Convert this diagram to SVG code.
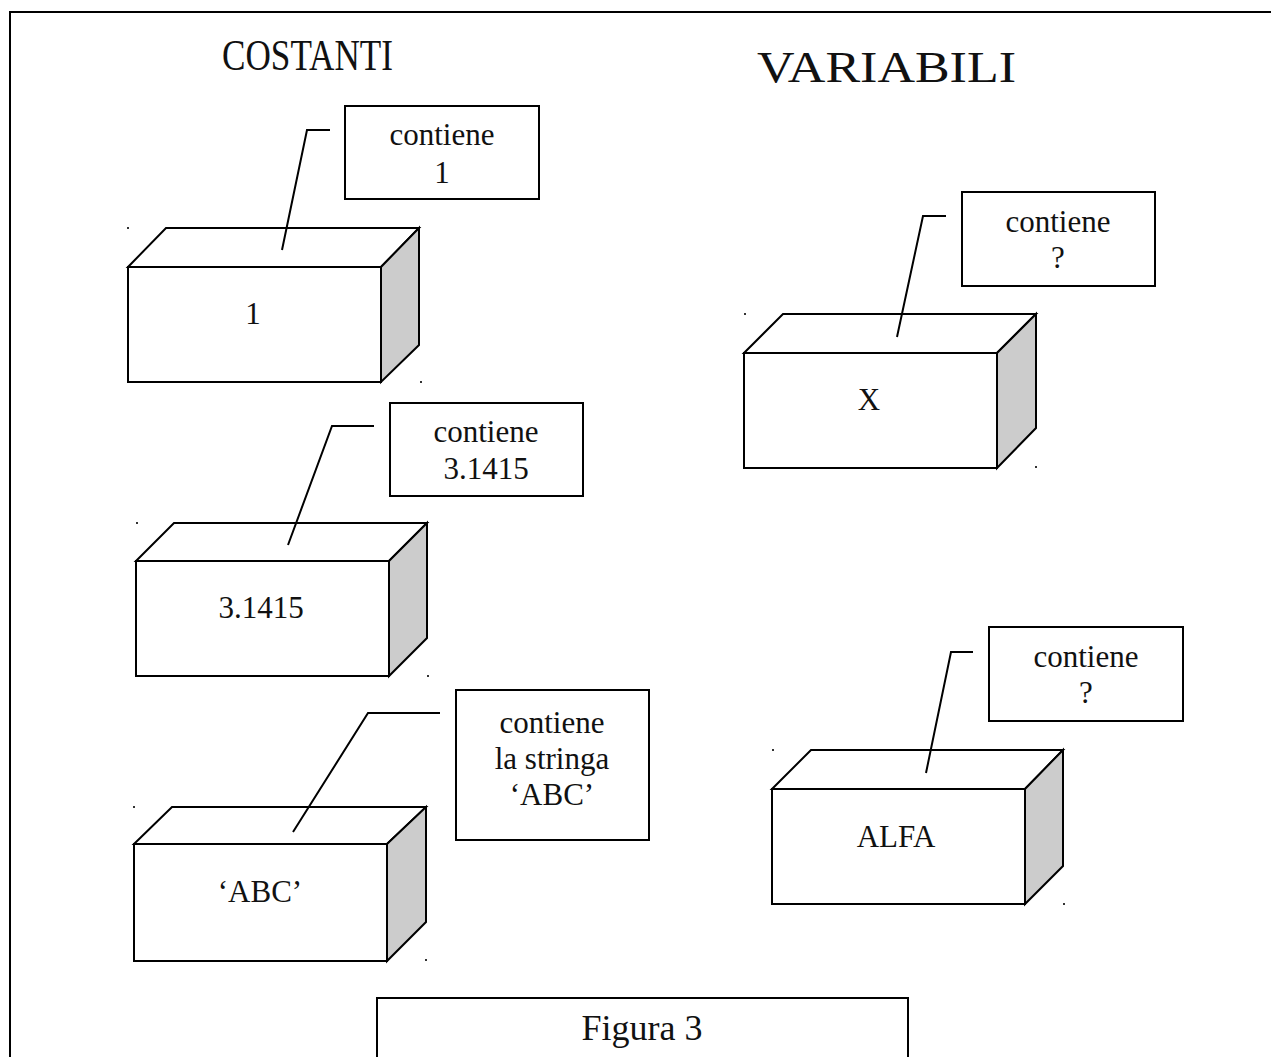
<svg xmlns="http://www.w3.org/2000/svg" width="1271" height="1057" viewBox="0 0 1271 1057">
  <style>
    .ln { fill: none; stroke: #000; stroke-width: 2; stroke-linejoin: miter; }
    .face { fill: #fff; stroke: #000; stroke-width: 2; stroke-linejoin: miter; }
    .side { fill: #cccccc; stroke: #000; stroke-width: 2; stroke-linejoin: miter; }
    .t { font-family: "Liberation Serif", "Times New Roman", serif; font-size: 31px; fill: #111; text-anchor: middle; }
    .h { font-family: "Liberation Serif", "Times New Roman", serif; font-size: 44px; fill: #111; }
    .dot { fill: #333; }
  </style>

  <rect width="1271" height="1057" fill="#fff"/>

  <!-- outer frame: left and top edges only -->
  <path class="ln" d="M10,1057 V12 H1271"/>

  <!-- column headings -->
  <text id="title-costanti" class="h" x="222" y="70" textLength="171" lengthAdjust="spacingAndGlyphs">COSTANTI</text>
  <text id="title-variabili" class="h" x="757" y="82" textLength="259" lengthAdjust="spacingAndGlyphs">VARIABILI</text>

  <!-- constant "1" -->
  <g id="box-1">
    <polygon class="face" points="128,267 166,228 419,228 381,267"/>
    <polygon class="side" points="381,267 419,228 419,345 381,382"/>
    <rect class="face" x="128" y="267" width="253" height="115"/>
    <rect class="dot" x="127" y="227" width="2" height="2"/>
    <rect class="dot" x="420" y="381" width="2" height="2"/>
    <text class="t" x="253" y="324">1</text>
  </g>
  <g id="note-1">
    <rect class="face" x="345" y="106" width="194" height="93"/>
    <text class="t" x="442" y="145">contiene</text>
    <text class="t" x="442" y="183">1</text>
  </g>

  <!-- constant 3.1415 -->
  <g id="box-pi">
    <polygon class="face" points="136,561 174,523 427,523 389,561"/>
    <polygon class="side" points="389,561 427,523 427,638 389,676"/>
    <rect class="face" x="136" y="561" width="253" height="115"/>
    <rect class="dot" x="136" y="522" width="2" height="2"/>
    <rect class="dot" x="427" y="675" width="2" height="2"/>
    <text class="t" x="261" y="618">3.1415</text>
  </g>
  <g id="note-pi">
    <rect class="face" x="390" y="403" width="193" height="93"/>
    <text class="t" x="486" y="442">contiene</text>
    <text class="t" x="486" y="479">3.1415</text>
  </g>

  <!-- constant 'ABC' -->
  <g id="box-abc">
    <polygon class="face" points="134,844 172,807 426,807 387,844"/>
    <polygon class="side" points="387,844 426,807 426,922 387,961"/>
    <rect class="face" x="134" y="844" width="253" height="117"/>
    <rect class="dot" x="133" y="806" width="2" height="2"/>
    <rect class="dot" x="425" y="959" width="2" height="2"/>
    <text class="t" x="260" y="902">&#8216;ABC&#8217;</text>
  </g>
  <g id="note-abc">
    <rect class="face" x="456" y="690" width="193" height="150"/>
    <text class="t" x="552" y="733">contiene</text>
    <text class="t" x="552" y="769">la stringa</text>
    <text class="t" x="552" y="805">&#8216;ABC&#8217;</text>
  </g>

  <!-- variable X -->
  <g id="box-x">
    <polygon class="face" points="744,353 783,314 1036,314 997,353"/>
    <polygon class="side" points="997,353 1036,314 1036,428 997,468"/>
    <rect class="face" x="744" y="353" width="253" height="115"/>
    <rect class="dot" x="744" y="313" width="2" height="2"/>
    <rect class="dot" x="1035" y="466" width="2" height="2"/>
    <text class="t" x="869" y="410">X</text>
  </g>
  <g id="note-x">
    <rect class="face" x="962" y="192" width="193" height="94"/>
    <text class="t" x="1058" y="232">contiene</text>
    <text class="t" x="1058" y="268">?</text>
  </g>

  <!-- variable ALFA -->
  <g id="box-alfa">
    <polygon class="face" points="772,789 811,750 1063,750 1025,789"/>
    <polygon class="side" points="1025,789 1063,750 1063,866 1025,904"/>
    <rect class="face" x="772" y="789" width="253" height="115"/>
    <rect class="dot" x="772" y="749" width="2" height="2"/>
    <rect class="dot" x="1063" y="903" width="2" height="2"/>
    <text class="t" x="896" y="847">ALFA</text>
  </g>
  <g id="note-alfa">
    <rect class="face" x="989" y="627" width="194" height="94"/>
    <text class="t" x="1086" y="667">contiene</text>
    <text class="t" x="1086" y="703">?</text>
  </g>

  <!-- leader lines from each box to its note -->
  <g id="connectors">
    <polyline class="ln" points="282,250 307,130 330,130"/>
    <polyline class="ln" points="288,545 332,426 374,426"/>
    <polyline class="ln" points="293,832 368,713 440,713"/>
    <polyline class="ln" points="897,337 923,216 946,216"/>
    <polyline class="ln" points="926,773 951,652 973,652"/>
  </g>

  <!-- caption -->
  <g id="caption">
    <path class="ln" d="M377,1057 V998 H908 V1057"/>
    <text class="t" x="642" y="1040" style="font-size:36px">Figura 3</text>
  </g>
</svg>
